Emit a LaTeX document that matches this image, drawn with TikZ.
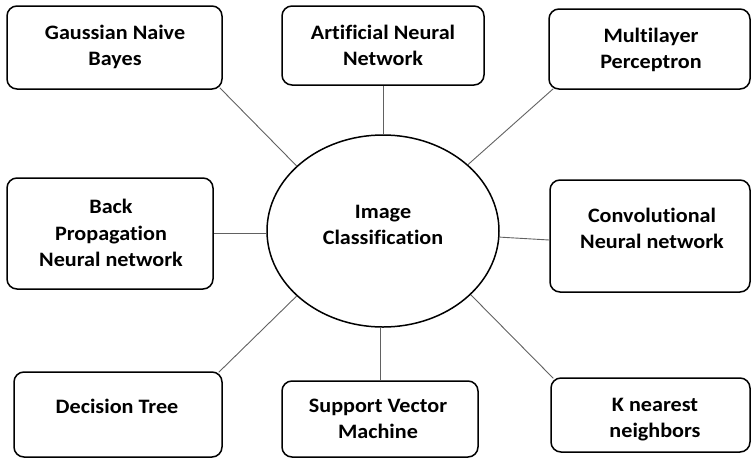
\documentclass[tikz,border=0pt]{standalone}
\usepackage{fontspec}
\newfontfamily\lblfont{Carlito}[FakeStretch=1.08,Ligatures=NoCommon]
\usetikzlibrary{shapes.geometric,calc}
\tikzset{
  box/.style={draw=black, line width=1.5pt, rounded corners=10pt, fill=white, inner sep=0pt},
  lbl/.style={inner sep=0pt, align=center, font=\lblfont\bfseries\fontsize{20.5}{26}\selectfont},
  conn/.style={draw=black!62, line width=0.9pt},
  hub/.style={draw=black, line width=1.5pt, ellipse, inner sep=0pt, minimum width=232pt, minimum height=192pt}
}
\newcommand{\mkbox}[5]{\node[box, minimum width=#4pt, minimum height=#5pt] (#1) at (#2,#3) {};}
\begin{document}
\begin{tikzpicture}[x=1pt,y=-1pt]
\useasboundingbox (0,0) rectangle (752,458);
% hub
\node[hub] (ell) at (383,231) {};
\node[lbl] (ellT) at (383,226.3) {\strut Image\\\strut Classification};
% boxes
\mkbox{gnb}{114.5}{47.5}{215}{83}
\mkbox{ann}{383}{45.5}{202}{79}
\mkbox{mlp}{649.5}{49}{201}{80}
\mkbox{bpn}{110}{233.5}{206}{111}
\mkbox{cnn}{650}{236}{200}{112}
\mkbox{dt}{118}{414.5}{208}{85}
\mkbox{svm}{380}{419}{196}{76}
\mkbox{knn}{650.5}{415}{199}{74}
% labels
\node[lbl] (gnbT) at (115,47.3) {\strut Gaussian Naive\\\strut Bayes};
\node[lbl] (annT) at (383,46.8) {\strut Artificial Neural\\\strut Network};
\node[lbl] (mlpT) at (651,49.8) {\strut Multilayer\\\strut Perceptron};
\node[lbl] (bpnT) at (111,234.8) {\strut Back\\[0.5pt]\strut Propagation\\[0.5pt]\strut Neural network};
\node[lbl] (cnnT) at (652,229.8) {\strut Convolutional\\\strut Neural network};
\node[lbl] (dtT) at (117,407.8) {\strut Decision Tree};
\node[lbl] (svmT) at (378,420.3) {\strut Support Vector\\\strut Machine};
\node[lbl] (knnT) at (655,418.8) {\strut K nearest\\\strut neighbors};
% connectors
\draw[conn] ($(gnb.south east)+(-3,-2)$) -- (ell.143);
\draw[conn] (ann.south) -- (ell.north);
\draw[conn] ($(mlp.south west)+(5,-1)$) -- (ell.38.7);
\draw[conn] (bpn.east) -- (bpn.east -| ell.west);
\draw[conn] (ell.-3) -- ($(cnn.west)+(0,4)$);
\draw[conn] ($(dt.north east)+(-4,1)$) -- (ell.217.3);
\draw[conn] (svm.north |- ell.south) -- (svm.north);
\draw[conn] (ell.-36.9) -- ($(knn.north west)+(3,1)$);
\end{tikzpicture}
\end{document}
